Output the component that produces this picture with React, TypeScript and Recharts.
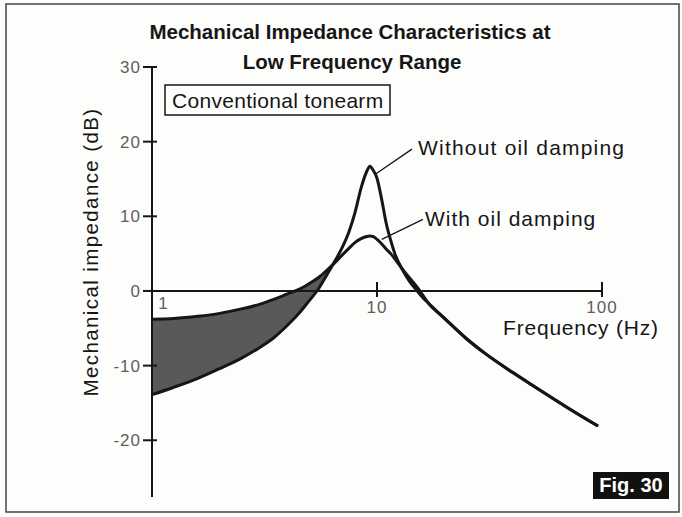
import React from 'react';
import {
  ComposedChart,
  Line,
  Area,
  XAxis,
  YAxis,
  ReferenceLine,
  ReferenceDot,
} from 'recharts';

// frequency (Hz) on a log axis, values in dB
const freqs = [
  1, 1.25, 1.6, 2, 2.5, 3, 3.5, 4, 4.5, 5, 5.5, 6, 6.5, 7, 7.5, 8, 8.5, 9, 9.3,
  9.6, 10, 10.5, 11, 11.5, 12, 13, 14, 15, 16, 17, 20, 25, 30, 40, 50, 70, 96,
];
const withoutOil = [
  -13.9, -12.9, -11.7, -10.4, -9.0, -7.6, -6.2, -4.6, -3.0, -1.3, 0.3, 2.2, 4.0,
  5.8, 7.9, 10.6, 13.8, 16.0, 16.7, 16.2, 15.1, 12.2, 9.0, 6.8, 5.0, 2.8, 1.2,
  0.1, -0.9, -1.7, -3.7, -6.4, -8.3, -10.9, -12.8, -15.6, -18.1,
];
const withOil = [
  -3.8, -3.7, -3.4, -3.0, -2.4, -1.8, -1.1, -0.4, 0.2, 1.0, 1.8, 2.8, 3.8, 4.8,
  5.7, 6.5, 7.0, 7.3, 7.35, 7.3, 6.9, 6.3, 5.6, 5.0, 4.3, 2.9, 1.7, 0.6, -0.6,
  -1.7, -3.7, -6.4, -8.3, -10.9, -12.8, -15.6, -18.1,
];
// shaded region runs up to where the two curves cross
const shadeUntil = 6.5;
const yTicks = [-20, -10, 0, 10, 20, 30];
const xTickLabels = [1, 10, 100];

const data = freqs.map((f, i) => ({
  f,
  without: withoutOil[i],
  withOil: withOil[i],
  band: f <= shadeUntil ? [withoutOil[i], withOil[i]] : null,
}));

const ink = '#161616';
const grey = '#5e5e5e';
const font = '"Liberation Sans", Arial, sans-serif';

const YTick = (props: any) => {
  const { x, y, payload } = props;
  return (
    <g>
      <line x1={x - 9} x2={x + 5} y1={y} y2={y} stroke={ink} strokeWidth={2} />
      <text
        x={x - 11}
        y={y + 6}
        textAnchor="end"
        fontSize={17}
        fontFamily={font}
        letterSpacing={1}
        fill={grey}
      >
        {payload.value}
      </text>
    </g>
  );
};

const XTick = (value: number) => (p: any) => {
  const { cx, cy } = p;
  if (value === 1) {
    return (
      <text x={cx + 11} y={cy + 18} textAnchor="middle" fontSize={17} fontFamily={font} fill={grey}>
        1
      </text>
    );
  }
  return (
    <g>
      <line x1={cx} x2={cx} y1={cy - 9} y2={cy + 6} stroke={ink} strokeWidth={2} />
      <text
        x={cx}
        y={cy + 22}
        textAnchor="middle"
        fontSize={17}
        fontFamily={font}
        letterSpacing={1}
        fill={grey}
      >
        {value}
      </text>
    </g>
  );
};

const App = () => {
  return (
    <div
      style={{
        position: 'absolute',
        left: 0,
        top: 0,
        width: 682,
        height: 517,
        background: '#fdfdfc',
      }}
    >
      <ComposedChart
        width={682}
        height={517}
        data={data}
        margin={{ top: 67, right: 80, left: 92, bottom: 20 }}
      >
        <XAxis
          dataKey="f"
          type="number"
          scale="log"
          domain={[1, 100]}
          allowDataOverflow
          hide
        />
        <YAxis
          type="number"
          domain={[-27.6, 30]}
          ticks={yTicks}
          interval={0}
          allowDataOverflow
          width={60}
          tickLine={false}
          tickSize={0}
          tickMargin={0}
          axisLine={{ stroke: ink, strokeWidth: 2 }}
          tick={YTick}
        />
        <Area
          dataKey="band"
          type="monotone"
          stroke="none"
          fill="#595959"
          fillOpacity={1}
          isAnimationActive={false}
        />
        <ReferenceLine
          segment={[
            { x: 1, y: 0 },
            { x: 100, y: 0 },
          ]}
          stroke={ink}
          strokeWidth={2}
        />
        {xTickLabels.map((v) => (
          <ReferenceDot key={v} x={v} y={0} r={0} shape={XTick(v)} />
        ))}
        <ReferenceLine
          segment={[
            { x: 9.9, y: 15.7 },
            { x: 14.3, y: 19.0 },
          ]}
          stroke={ink}
          strokeWidth={1.3}
        />
        <ReferenceLine
          segment={[
            { x: 10.5, y: 6.9 },
            { x: 16.0, y: 9.6 },
          ]}
          stroke={ink}
          strokeWidth={1.3}
        />
        <Line
          dataKey="withOil"
          type="monotone"
          stroke={ink}
          strokeWidth={3}
          dot={false}
          isAnimationActive={false}
        />
        <Line
          dataKey="without"
          type="monotone"
          stroke={ink}
          strokeWidth={3}
          dot={false}
          isAnimationActive={false}
        />
      </ComposedChart>
      <svg
        width={682}
        height={517}
        style={{ position: 'absolute', left: 0, top: 0, pointerEvents: 'none' }}
        fontFamily={font}
      >
        <rect x={6} y={4} width={673} height={508} fill="none" stroke="#444" strokeWidth={1.5} />
        <text x={350} y={39} textAnchor="middle" fontSize={20.5} fontWeight="bold" fill={ink}>
          Mechanical Impedance Characteristics at
        </text>
        <text x={352} y={69} textAnchor="middle" fontSize={20.5} fontWeight="bold" fill={ink}>
          Low Frequency Range
        </text>
        <rect x={165} y={85} width={225} height={30} fill="none" stroke={ink} strokeWidth={1.5} />
        <text x={172} y={108} fontSize={21} letterSpacing={0.3} fill={ink}>
          Conventional tonearm
        </text>
        <text x={418} y={155} fontSize={21} letterSpacing={1.2} fill={ink}>
          Without oil damping
        </text>
        <text x={425} y={226} fontSize={21} letterSpacing={1} fill={ink}>
          With oil damping
        </text>
        <text x={503} y={335} fontSize={21} letterSpacing={0.8} fill={ink}>
          Frequency (Hz)
        </text>
        <text
          x={98}
          y={252}
          textAnchor="middle"
          fontSize={20.5}
          letterSpacing={1.4}
          fill={ink}
          transform="rotate(-90 98 252)"
        >
          Mechanical impedance (dB)
        </text>
        <rect x={593} y={472} width={76} height={27} fill="#111" />
        <text x={631} y={492} textAnchor="middle" fontSize={20} fontWeight="bold" fill="#fff">
          Fig. 30
        </text>
      </svg>
    </div>
  );
};

export default App;
